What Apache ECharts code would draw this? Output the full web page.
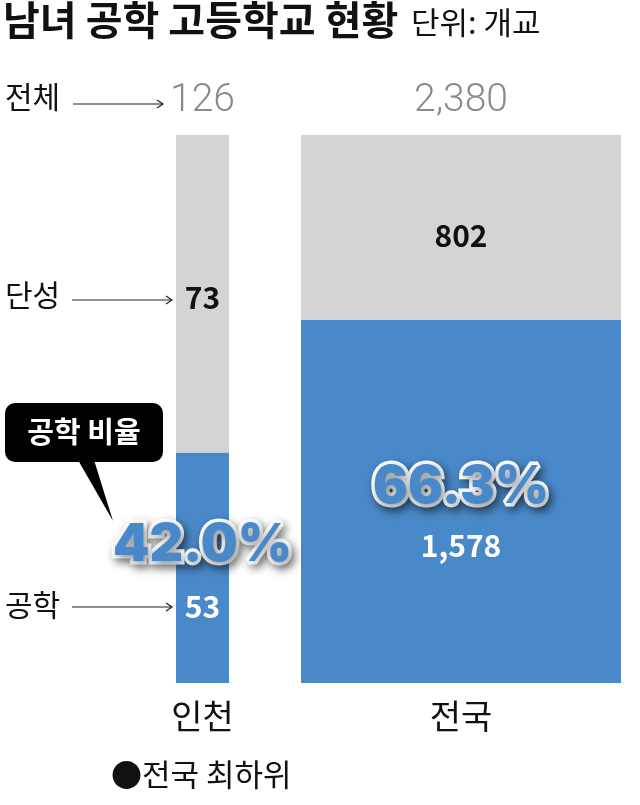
<!DOCTYPE html>
<html><head><meta charset="utf-8">
<script src="https://cdn.jsdelivr.net/npm/echarts@6/dist/echarts.min.js"></script>
<style>html,body{margin:0;padding:0;background:#fff}#c{width:640px;height:805px}</style>
</head><body><div id="c"></div>
<script>
var categories = ['인천', '전국'];
var coedValues = [53, 1578];     // 공학
var singleValues = [73, 802];    // 단성
var pctLabels = ['42.0%', '66.3%'];

var BLUE = '#4a89c9', GRAY = '#d4d4d6';
var FONT = '"Noto Sans CJK KR", "Noto Sans", sans-serif';
var PCT_FONT = 'Inter, "Noto Sans CJK KR", sans-serif';
var chart = echarts.init(document.getElementById('c'));

var grids = [
  {left: 176, width: 53, top: 135, height: 548},
  {left: 301, width: 320, top: 135, height: 548}
];
var singleOffsets = [4, 8];
var coedOffsets = [-6, 2];
var pctLineHeights = [90, 84];

var xAxes = [], yAxes = [], series = [];
categories.forEach(function (cat, i) {
  var total = coedValues[i] + singleValues[i];
  xAxes.push({gridIndex: i, type: 'category', data: [cat], position: 'bottom',
    axisLine: {show: false}, axisTick: {show: false},
    axisLabel: {fontSize: 34, color: '#111', margin: 16, fontFamily: FONT}});
  xAxes.push({gridIndex: i, type: 'category', data: [total.toLocaleString('en-US')], position: 'top',
    axisLine: {show: false}, axisTick: {show: false},
    axisLabel: {fontSize: 39, color: '#8a8a8a', margin: 14, fontFamily: 'Roboto, sans-serif', fontWeight: 300}});
  yAxes.push({gridIndex: i, type: 'value', min: 0, max: total, show: false});
  series.push({
    type: 'bar', xAxisIndex: i * 2, yAxisIndex: i, stack: 's' + i, barWidth: '100%',
    itemStyle: {color: BLUE}, silent: true,
    data: [{value: coedValues[i], label: {
      show: true, position: 'inside', offset: [0, coedOffsets[i]],
      formatter: '{p|' + pctLabels[i] + '}\n{v|' + coedValues[i].toLocaleString('en-US') + '}',
      rich: {
        p: {fontSize: 52, fontWeight: 900, fontFamily: PCT_FONT, color: BLUE, lineHeight: pctLineHeights[i],
            textBorderColor: '#fff', textBorderWidth: 7, align: 'center',
            textShadowColor: 'rgba(0,0,0,0.45)', textShadowBlur: 10, textShadowOffsetX: 3, textShadowOffsetY: 4},
        v: {fontSize: 30, fontWeight: 'bold', fontFamily: FONT, color: '#fff', lineHeight: 32, align: 'center'}
      }
    }}]
  });
  series.push({
    type: 'bar', xAxisIndex: i * 2, yAxisIndex: i, stack: 's' + i, barWidth: '100%',
    itemStyle: {color: GRAY}, silent: true,
    label: {show: true, position: 'inside', offset: [0, singleOffsets[i]], fontSize: 30, fontWeight: 'bold',
      color: '#111', fontFamily: FONT},
    data: [singleValues[i]]
  });
});

function arrow(x1, x2, y) {
  return [
    {type: 'line', shape: {x1: x1, y1: y, x2: x2, y2: y}, style: {stroke: '#222', lineWidth: 1.2}},
    {type: 'polyline', shape: {points: [[x2 - 6, y - 4], [x2, y], [x2 - 6, y + 4]]}, style: {stroke: '#222', lineWidth: 1.2, fill: null}}
  ];
}

var graphic = [
  {type: 'text', left: 3, top: 0, style: {text: '남녀 공학 고등학교 현황', font: 'bold 40px ' + FONT, fill: '#111'}},
  {type: 'text', left: 411, top: 7, style: {text: '단위: 개교', font: '31px ' + FONT, fill: '#111'}},
  {type: 'text', left: 5, top: 82, style: {text: '전체', font: '30px ' + FONT, fill: '#111'}},
  {type: 'text', left: 5, top: 280, style: {text: '단성', font: '30px ' + FONT, fill: '#111'}},
  {type: 'text', left: 5, top: 590, style: {text: '공학', font: '30px ' + FONT, fill: '#111'}},
  {type: 'rect', shape: {x: 5, y: 403, width: 158, height: 59, r: 10}, style: {fill: '#000'}},
  {type: 'polygon', shape: {points: [[78, 460], [94, 460], [113, 521]]}, style: {fill: '#000'}},
  {type: 'text', x: 84, y: 432, style: {text: '공학 비율', font: 'bold 29px ' + FONT, fill: '#fff', textAlign: 'center', textVerticalAlign: 'middle'}},
  {type: 'text', left: 111, top: 759, style: {text: '●전국 최하위', font: '31px ' + FONT, fill: '#111'}}
].concat(arrow(73, 163, 104), arrow(72, 172, 300), arrow(72, 172, 607));

chart.setOption({
  animation: false,
  grid: grids,
  xAxis: xAxes,
  yAxis: yAxes,
  series: series,
  graphic: graphic
});
</script></body></html>
